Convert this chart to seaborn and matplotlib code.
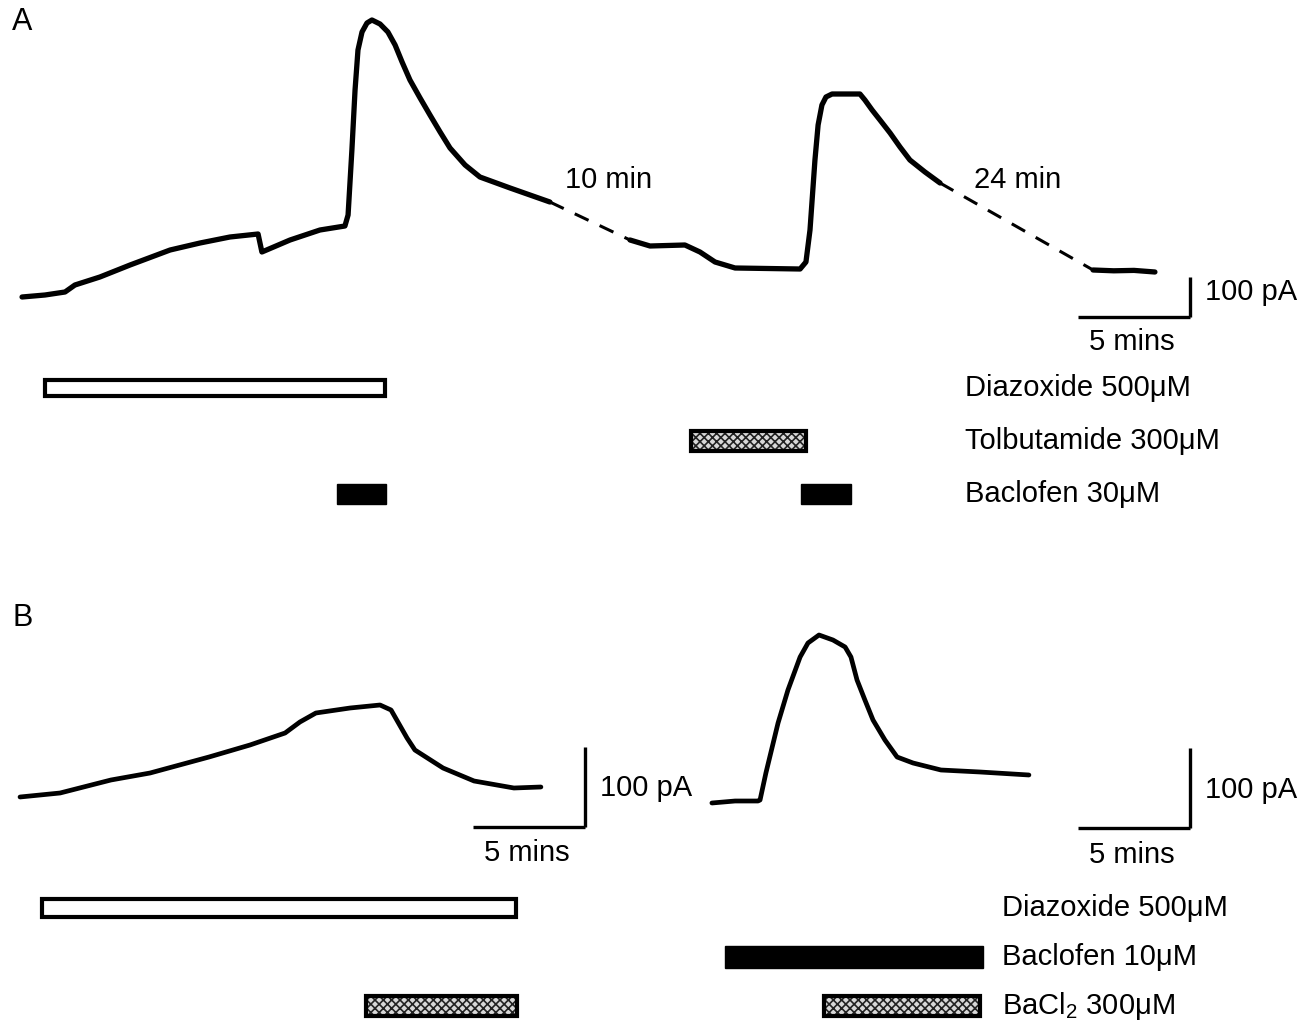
import matplotlib
matplotlib.use("Agg")
import matplotlib.pyplot as plt
import seaborn as sns
import pandas as pd

# ---- panel A trace (time in min, current in pA) ----
a_seg1_t = [0.98, 2.0, 2.89, 3.33, 4.44, 5.78, 7.56, 8.89, 10.22, 11.47, 11.64, 12.89,
            14.22, 15.33, 15.47, 15.64, 15.78, 15.91, 16.09, 16.31, 16.53, 16.89, 17.24,
            17.56, 17.87, 18.22, 18.67, 19.11, 19.56, 20.0, 20.67, 21.33, 22.67, 24.44]
a_seg1_i = [7.5, 12.5, 20, 37.5, 57.5, 87.5, 125, 142.5, 157.5, 165, 120, 150,
            175, 185, 212.5, 375, 525, 625, 670, 692.5, 700, 690, 670,
            637.5, 595, 550, 505, 462.5, 420, 380, 337.5, 307.5, 280, 245]
a_seg2_t = [28.0, 28.89, 30.44, 31.11, 31.78, 32.67, 35.56, 35.82, 36.0, 36.22, 36.36,
            36.53, 36.71, 36.98, 38.22, 38.44, 38.76, 39.11, 39.56, 40.0, 40.44, 41.11,
            41.78]
a_seg2_i = [150, 135, 137.5, 120, 95, 80, 77.5, 95, 175, 350, 437.5,
            487.5, 507.5, 515, 515, 500, 475, 450, 417.5, 382.5, 350, 320,
            292.5]
a_seg3_t = [48.58, 49.5, 50.4, 51.33]
a_seg3_i = [75, 73, 74, 70]
a_gap_labels = ["10 min", "24 min"]

# ---- panel B traces ----
b_left_t = [0.89, 2.67, 4.93, 6.67, 9.29, 11.11, 12.67, 13.33, 14.04, 15.56, 16.89,
            17.38, 18.09, 18.44, 19.69, 21.07, 22.84, 24.04]
b_left_i = [3.75, 8.75, 25, 33.75, 53.75, 68.75, 83.75, 97.5, 108.75, 115, 118.75,
            112.5, 77.5, 62.5, 40, 23.75, 15, 16.25]
b_right_t = [31.64, 32.67, 33.69, 33.78, 34.04, 34.58, 35.02, 35.56, 35.91, 36.4,
             37.02, 37.56, 37.82, 38.09, 38.44, 38.8, 39.33, 39.87, 40.58, 41.82,
             43.56, 45.73]
b_right_i = [-3.75, -1.25, -1.25, 0, 33.75, 96.25, 137.5, 178.75, 196.25, 206.25,
             200, 191.25, 178.75, 150, 125, 100, 75, 53.75, 46.25, 37.5,
             35, 31.25]

# ---- drug applications (start, end in min) ----
a_drugs = ["Diazoxide 500\u03bcM", "Tolbutamide 300\u03bcM", "Baclofen 30\u03bcM"]
a_diazoxide = [(2.0, 17.11)]
a_tolbutamide = [(30.71, 35.82)]
a_baclofen = [(14.98, 17.16), (35.6, 37.82)]

b_drugs = ["Diazoxide 500\u03bcM", "Baclofen 10\u03bcM", "BaCl$_\\mathrm{2}$ 300\u03bcM"]
b_diazoxide = [(1.87, 22.93)]
b_baclofen = [(32.22, 43.69)]
b_bacl2 = [(16.27, 22.98), (36.62, 43.56)]

sns.set_theme(style="white")
plt.rcParams["font.family"] = ["Liberation Sans", "DejaVu Sans"]
plt.rcParams["mathtext.fontset"] = "custom"
plt.rcParams["mathtext.rm"] = "Liberation Sans"
plt.rcParams["hatch.linewidth"] = 1.2
plt.rcParams["text.color"] = "black"

W, H = 1309, 1022
PX_PER_MIN = 22.5
fig = plt.figure(figsize=(W / 100, H / 100), dpi=100)


def add_ax(top, bottom):
    return fig.add_axes([0, 1 - bottom / H, 1, (bottom - top) / H])


FS = 21
XMAX = W / PX_PER_MIN


def trace(ax, t, i, lw):
    df = pd.DataFrame({"t": t, "i": i})
    sns.lineplot(data=df, x="t", y="i", ax=ax, color="black", lw=lw,
                 sort=False, estimator=None)


def scalebar(ax, t_corner, i_corner, label_y, label_t):
    ax.plot([t_corner - 5, t_corner], [i_corner, i_corner], color="black", lw=2.4,
            solid_capstyle="butt")
    ax.plot([t_corner, t_corner], [i_corner, i_corner + 100], color="black", lw=2.4,
            solid_capstyle="butt")
    ax.text(t_corner + 0.65, i_corner + label_y, "100 pA", fontsize=FS, va="center")
    ax.text(t_corner - 2.6, i_corner + label_t, "5 mins", fontsize=FS, va="center",
            ha="center")


def drug_row(ax, row, spans, kind, h):
    for s, e in spans:
        if kind == "open":
            ax.barh(row, e - s, left=s, height=h, color="white", edgecolor="black",
                    lw=3)
        elif kind == "hatch":
            ax.barh(row, e - s, left=s, height=h, color="#d8d8d8", edgecolor="#222222",
                    hatch="xxxx", lw=0)
            ax.barh(row, e - s, left=s, height=h, fill=False, edgecolor="black",
                    lw=3)
        else:
            ax.barh(row, e - s, left=s, height=h, color="black", edgecolor="black",
                    lw=1)


# ---------- Panel A ----------
axA = add_ax(0, 360)
axA.set_xlim(0, XMAX)
axA.set_ylim(-150, 750)
trace(axA, a_seg1_t, a_seg1_i, 3.8)
trace(axA, a_seg2_t, a_seg2_i, 3.8)
trace(axA, a_seg3_t, a_seg3_i, 3.8)
for (t0, i0), (t1, i1) in [((a_seg1_t[-1], a_seg1_i[-1]), (a_seg2_t[0], a_seg2_i[0])),
                           ((a_seg2_t[-1], a_seg2_i[-1]), (a_seg3_t[0], a_seg3_i[0]))]:
    axA.plot([t0, t1], [i0, i1], color="black", lw=2.2, linestyle=(0, (5, 4)))
axA.text(25.1, 300, a_gap_labels[0], fontsize=FS, va="center")
axA.text(43.3, 300, a_gap_labels[1], fontsize=FS, va="center")
scalebar(axA, 52.9, -42.5, 62.5, -62.5)

axAb = add_ax(360, 520)
axAb.set_xlim(0, XMAX)
axAb.set_ylim(2.49, -0.528)
drug_row(axAb, 0, a_diazoxide, "open", 0.3)
drug_row(axAb, 1, a_tolbutamide, "hatch", 0.36)
drug_row(axAb, 2, a_baclofen, "solid", 0.36)
for r, lab in enumerate(a_drugs):
    axAb.text(42.9, r, lab, fontsize=FS, va="center")

# ---------- Panel B ----------
axB = add_ax(560, 880)
axB.set_xlim(0, XMAX)
axB.set_ylim(-100, 300)
trace(axB, b_left_t, b_left_i, 3.4)
trace(axB, b_right_t, b_right_i, 3.4)
scalebar(axB, 26.0, -33.75, 48.75, -32.5)
scalebar(axB, 52.89, -35.0, 47.5, -33.75)

axBb = add_ax(880, 1022)
axBb.set_xlim(0, XMAX)
axBb.set_ylim(2.32, -0.566)
drug_row(axBb, 0, b_diazoxide, "open", 0.36)
drug_row(axBb, 1, b_baclofen, "solid", 0.44)
drug_row(axBb, 2, b_bacl2, "hatch", 0.4)
for r, lab in enumerate(b_drugs):
    axBb.text(44.53, r, lab, fontsize=FS, va="center")

for ax in (axA, axAb, axB, axBb):
    ax.set_axis_off()
    ax.patch.set_alpha(0)

fig.text(12 / W, 1 - 22 / H, "A", fontsize=22, va="center")
fig.text(12 / W, 1 - 618 / H, "B", fontsize=22, va="center")

fig.savefig("out.png", dpi=100, facecolor="white")
